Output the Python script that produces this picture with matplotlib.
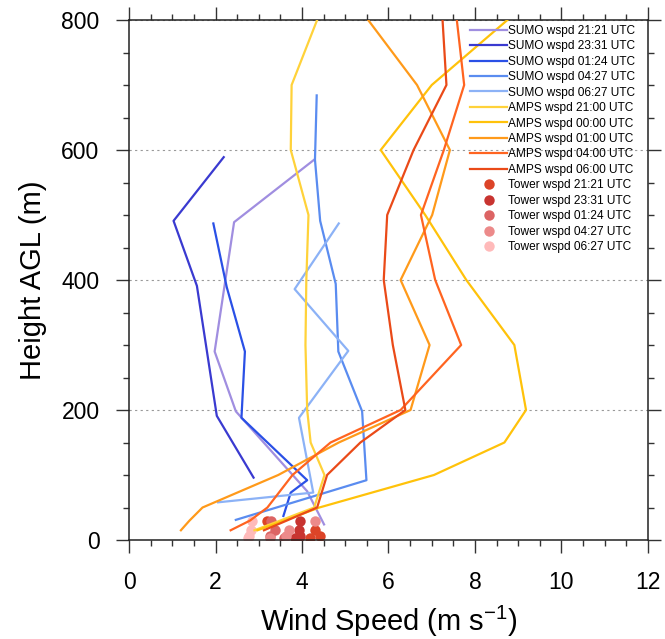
import numpy as np
import matplotlib
matplotlib.use("Agg")
from matplotlib import pyplot as plt
from matplotlib.ticker import MultipleLocator
from matplotlib.lines import Line2D

plt.rcParams['font.family'] = ['Liberation Sans', 'DejaVu Sans']
plt.rcParams['mathtext.fontset'] = 'custom'
plt.rcParams['mathtext.rm'] = 'Liberation Sans'
plt.rcParams['mathtext.default'] = 'regular'

# SUMO profiles: wind speed (m/s) and height (m)
sumo_2121_ws = [4.51, 4.12, 2.47, 1.98, 2.43, 4.28]
sumo_2121_z = [24, 75, 198, 290, 489, 585]
sumo_2331_ws = [2.88, 2.03, 1.57, 1.03, 2.19]
sumo_2331_z = [96, 191, 391, 491, 589]
sumo_0124_ws = [3.57, 3.74, 4.12, 2.60, 2.68, 2.26, 1.95]
sumo_0124_z = [37, 73, 92, 188, 290, 389, 487]
sumo_0427_ws = [2.47, 5.49, 5.39, 4.84, 4.78, 4.42, 4.30, 4.34]
sumo_0427_z = [31, 92, 198, 290, 394, 491, 585, 684]
sumo_0627_ws = [2.06, 4.26, 3.93, 5.07, 3.83, 4.85]
sumo_0627_z = [58, 73, 188, 291, 386, 487]

# AMPS model levels
amps_z = [15, 30, 50, 100, 150, 200, 300, 400, 500, 600, 700, 800]
amps_2100_ws = [2.90, 3.50, 4.28, 4.52, 4.20, 4.12, 4.08, 4.10, 4.15, 3.74, 3.76, 4.35]
amps_0000_ws = [2.97, 3.60, 4.40, 7.05, 8.68, 9.18, 8.91, 7.80, 6.85, 5.82, 7.00, 8.75]
amps_0100_ws = [1.20, 1.40, 1.70, 3.45, 4.85, 6.51, 6.95, 6.28, 7.01, 7.42, 6.66, 5.53]
amps_0400_ws = [2.35, 2.80, 3.20, 3.78, 4.66, 6.28, 7.68, 7.08, 6.75, 7.28, 7.75, 7.58]
amps_0600_ws = [3.12, 3.65, 4.35, 4.58, 5.35, 6.39, 6.10, 5.89, 5.97, 6.58, 7.34, 7.25]

# tower observations
tower_z = [3, 6, 15, 30]
tower_2121_ws = [4.18, 4.42, 4.30, 3.20]
tower_2331_ws = [3.83, 3.95, 3.93, 3.95]
tower_0124_ws = [3.58, 3.26, 3.38, 3.29]
tower_0427_ws = [3.26, 3.64, 3.70, 4.29]
tower_0627_ws = [2.74, 2.78, 2.82, 2.84]

sumo = [
    ("SUMO wspd 21:21 UTC", sumo_2121_ws, sumo_2121_z, "#a08ee0"),
    ("SUMO wspd 23:31 UTC", sumo_2331_ws, sumo_2331_z, "#3a3ad0"),
    ("SUMO wspd 01:24 UTC", sumo_0124_ws, sumo_0124_z, "#2a50e6"),
    ("SUMO wspd 04:27 UTC", sumo_0427_ws, sumo_0427_z, "#5a8cf0"),
    ("SUMO wspd 06:27 UTC", sumo_0627_ws, sumo_0627_z, "#8cb2f6"),
]
amps = [
    ("AMPS wspd 21:00 UTC", amps_2100_ws, "#ffd23a"),
    ("AMPS wspd 00:00 UTC", amps_0000_ws, "#ffc20a"),
    ("AMPS wspd 01:00 UTC", amps_0100_ws, "#ff9a1a"),
    ("AMPS wspd 04:00 UTC", amps_0400_ws, "#ff6420"),
    ("AMPS wspd 06:00 UTC", amps_0600_ws, "#ea4a18"),
]
tower = [
    ("Tower wspd 21:21 UTC", tower_2121_ws, "#dc4428"),
    ("Tower wspd 23:31 UTC", tower_2331_ws, "#c83430"),
    ("Tower wspd 01:24 UTC", tower_0124_ws, "#dc6464"),
    ("Tower wspd 04:27 UTC", tower_0427_ws, "#ec8a8a"),
    ("Tower wspd 06:27 UTC", tower_0627_ws, "#ffbaba"),
]


def main():
    fig = plt.figure(figsize=(6.65, 6.39), dpi=100)
    ax = fig.add_axes([0.194, 0.1549, 0.7804, 0.8138])

    handles = []
    for label, ws, c in tower:
        ax.plot(ws, tower_z, 'o', color=c, ms=7.5, mec='none', zorder=2)
    for label, ws, z, c in sumo:
        h, = ax.plot(ws, z, color=c, lw=1.6, label=label, zorder=3)
        handles.append(h)
    for label, ws, c in amps:
        h, = ax.plot(ws, amps_z, color=c, lw=1.6, label=label, zorder=3)
        handles.append(h)
    for label, ws, c in tower:
        handles.append(Line2D([], [], ls='none', marker='o', ms=7.5,
                              color=c, mec='none', label=label))

    ax.set_xlim(0, 12)
    ax.set_ylim(0, 800)
    ax.xaxis.set_major_locator(MultipleLocator(2))
    ax.xaxis.set_minor_locator(MultipleLocator(0.5))
    ax.yaxis.set_major_locator(MultipleLocator(200))
    ax.yaxis.set_minor_locator(MultipleLocator(50))
    ax.tick_params(which='both', direction='out', top=True, right=True,
                   width=1.0, colors='#333333', labelcolor='black')
    ax.tick_params(which='major', length=9.2, labelsize=16.5)
    ax.tick_params(which='minor', length=4.4)
    ax.tick_params(axis='x', which='major', pad=13)
    ax.tick_params(axis='y', which='major', pad=12)
    for s in ax.spines.values():
        s.set_linewidth(1.1)
        s.set_color('#222222')

    ax.grid(axis='y', which='major', linestyle=(0, (2, 3)),
            color='#9a9a9a', lw=0.8)

    ax.set_xlabel("Wind Speed (m s$^{-1}$)", fontsize=21, labelpad=7)
    ax.set_ylabel("Height AGL (m)", fontsize=21, labelpad=10)

    ax.legend(handles=handles, loc='upper right', frameon=False,
              fontsize=8.6, handlelength=3.1, handletextpad=0.1,
              labelspacing=0.29, borderaxespad=0.2, borderpad=0.2,
              bbox_to_anchor=(0.985, 1.0))

    fig.savefig("out.png", dpi=100)


if __name__ == "__main__":
    main()
